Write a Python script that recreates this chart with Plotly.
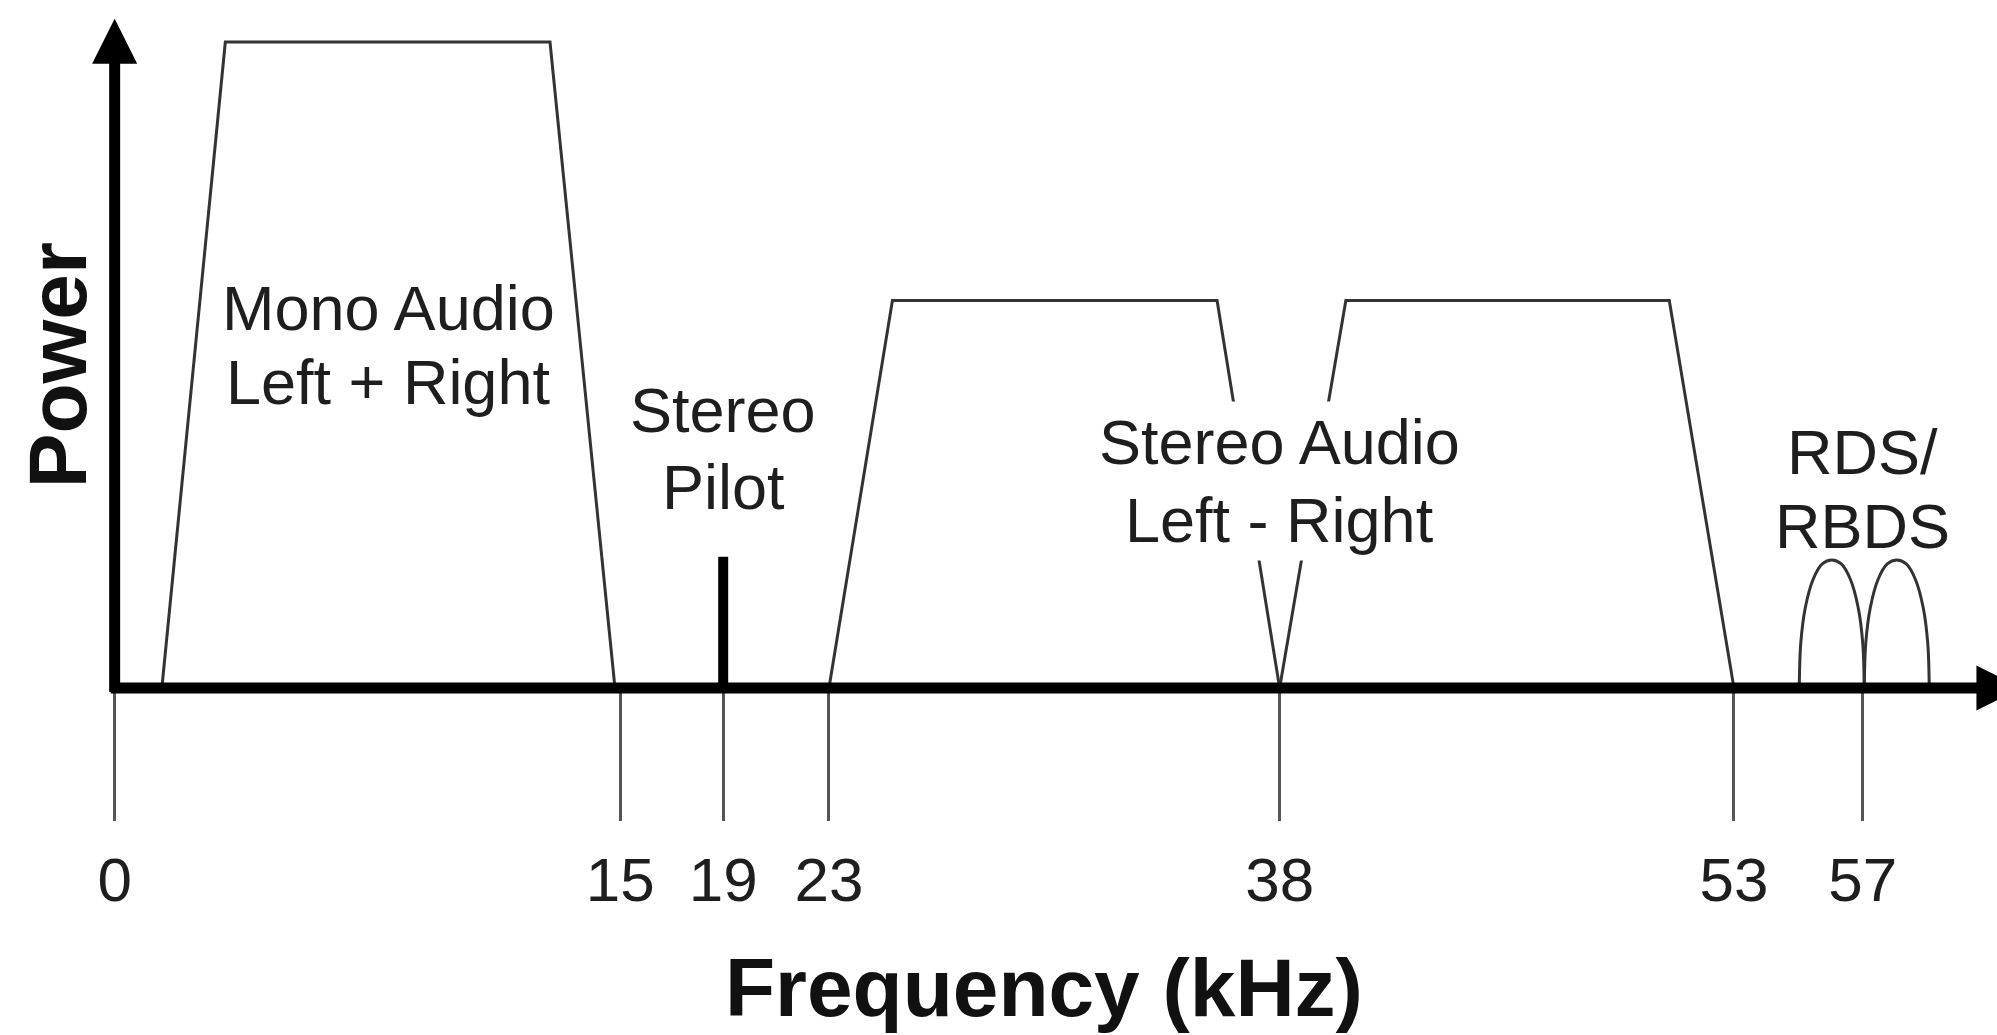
import plotly.graph_objects as go

# ---- data (diagram positions along the frequency axis, power in relative units) ----
tick_labels = ["0", "15", "19", "23", "38", "53", "57"]
tick_pos = [0, 16.49, 19.85, 23.3, 38, 52.82, 57.02]

mono_x = [1.54, 3.61, 14.2, 16.32]
mono_y = [0, 100, 100, 0]

pilot_x = [19.85, 19.85]
pilot_y = [0, 20.3]

lsb_x = [23.3, 25.37, 35.96, 38]
lsb_y = [0, 60, 60, 0]

usb_x = [38, 40.16, 50.71, 52.82]
usb_y = [0, 60, 60, 0]

rds1_x = [54.95, 55.0, 55.15, 55.4, 55.7, 56.01, 56.32, 56.62, 56.87, 57.02, 57.07]
rds1_y = [0, 7, 12.5, 16.8, 19.2, 19.8, 19.2, 16.8, 12.5, 7, 0]
rds2_x = [57.07, 57.12, 57.27, 57.52, 57.82, 58.13, 58.44, 58.74, 58.99, 59.14, 59.19]
rds2_y = [0, 7, 12.5, 16.8, 19.2, 19.8, 19.2, 16.8, 12.5, 7, 0]

label_lines = [
    ["Mono Audio", "Left + Right"],
    ["Stereo", "Pilot"],
    ["Stereo Audio", "Left - Right"],
    ["RDS/", "RBDS"],
]
x_title = "Frequency (kHz)"
y_title = "Power"

# ---- layout constants ----
label_anchor = [(8.93, 58.77, 47.33, False),
                (19.85, 42.99, 31.16, False),
                (38.0, 38.06, 26.03, True),
                (57.0, 36.48, 25.04, False)]
x_axis_end = 62.2
y_axis_end = 103.6

W, H = 1997, 1035
M_B = 347
x_range = [-3.74, 61.4]
y_range = [0, 106.5]

LINE = "#333333"
TEXT = "#1e1e1e"
FONT = "Liberation Sans, Arial, sans-serif"

fig = go.Figure()


def outline(x, y, shape="linear"):
    fig.add_trace(go.Scatter(x=x, y=y, mode="lines",
                             line=dict(color=LINE, width=3, shape=shape),
                             hoverinfo="skip", showlegend=False, cliponaxis=False))


outline(mono_x, mono_y)
outline(lsb_x, lsb_y)
outline(usb_x, usb_y)
outline(rds1_x, rds1_y, "spline")
outline(rds2_x, rds2_y, "spline")

fig.add_trace(go.Scatter(x=pilot_x, y=pilot_y, mode="lines",
                         line=dict(color="#000000", width=10),
                         hoverinfo="skip", showlegend=False, cliponaxis=False))

for lines, (lx, y1, y2, bg) in zip(label_lines, label_anchor):
    for text, ly in zip(lines, (y1, y2)):
        fig.add_annotation(x=lx, y=ly, xref="x", yref="y", text=text, showarrow=False,
                           font=dict(family=FONT, size=63, color=TEXT),
                           xanchor="center", yanchor="middle",
                           bgcolor="white" if bg else "rgba(0,0,0,0)", borderpad=5)

# axes drawn as arrows
plot_h = H - M_B
px_y = (y_range[1] - y_range[0]) / plot_h
px_x = (x_range[1] - x_range[0]) / W
AW = 11
fig.add_annotation(x=x_axis_end, y=0, ax=-AW / 2 * px_x, ay=0,
                   xref="x", yref="y", axref="x", ayref="y", text="",
                   showarrow=True, arrowhead=2, arrowsize=0.82, arrowwidth=AW,
                   arrowcolor="#000000")
fig.add_annotation(x=0, y=y_axis_end, ax=0, ay=-AW / 2 * px_y,
                   xref="x", yref="y", axref="x", ayref="y", text="",
                   showarrow=True, arrowhead=2, arrowsize=0.82, arrowwidth=AW,
                   arrowcolor="#000000")

fig.add_annotation(x=0.523, y=-0.436, xref="paper", yref="paper",
                   text="<b>" + x_title + "</b>", showarrow=False,
                   font=dict(family=FONT, size=82, color="#111111"),
                   xanchor="center", yanchor="middle")
fig.add_annotation(x=0.0285, y=0.469, xref="paper", yref="paper",
                   text="<b>" + y_title + "</b>", showarrow=False, textangle=-90,
                   font=dict(family=FONT, size=82, color="#111111"),
                   xanchor="center", yanchor="middle")

fig.update_layout(
    width=W, height=H,
    margin=dict(l=0, r=0, t=0, b=M_B),
    paper_bgcolor="white", plot_bgcolor="white",
    xaxis=dict(range=x_range, showgrid=False, zeroline=False, showline=False,
               tickmode="array", tickvals=tick_pos, ticktext=tick_labels,
               ticks="outside", ticklen=132, tickwidth=3, tickcolor="#555555",
               ticklabelstandoff=6,
               tickfont=dict(family=FONT, size=62, color=TEXT), fixedrange=True),
    yaxis=dict(range=y_range, visible=False, fixedrange=True),
)

fig.write_html("out.html", config={"displayModeBar": False},
               post_script="document.body.style.margin='0px';")
